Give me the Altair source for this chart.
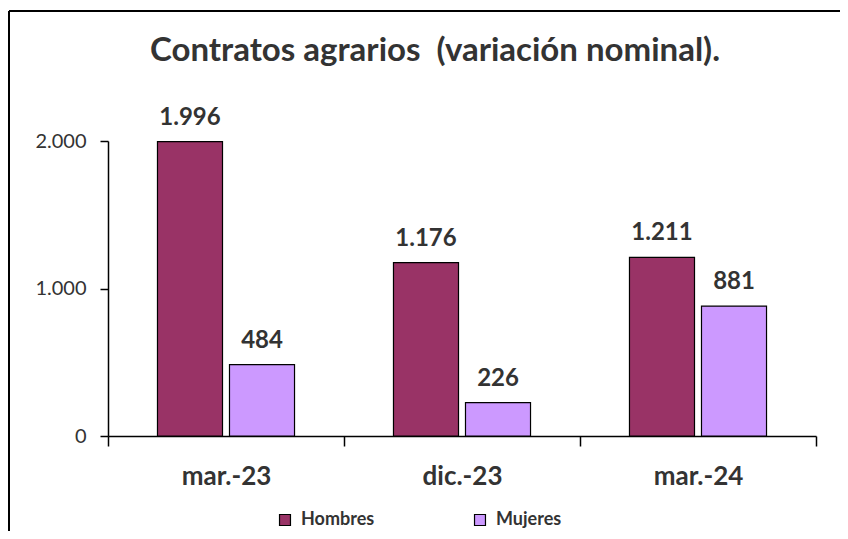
import altair as alt
import pandas as pd

periods = ["mar.-23", "dic.-23", "mar.-24"]
hombres = [1996, 1176, 1211]
mujeres = [484, 226, 881]
series = ["Hombres", "Mujeres"]
colors = ["#993366", "#CC99FF"]
title_text = "Contratos agrarios\u00a0 (variación nominal)."

rows = []
for p, h, m in zip(periods, hombres, mujeres):
    rows.append({"periodo": p, "sexo": "Hombres", "valor": h})
    rows.append({"periodo": p, "sexo": "Mujeres", "valor": m})
df = pd.DataFrame(rows)
df["etiqueta"] = df["valor"].map(lambda v: f"{v:,}".replace(",", "."))

FONT = "Lato"
TXT = "#333333"

x = alt.X("periodo:N", sort=periods, title=None,
          scale=alt.Scale(paddingInner=0, paddingOuter=0),
          axis=alt.Axis(labelFont=FONT, labelFontSize=26, labelFontWeight="bold",
                        labelColor=TXT, labelPadding=17, labelAngle=0,
                        domainColor="black", domainWidth=1.5,
                        tickColor="black", tickWidth=1.5, tickSize=10,
                        tickBand="extent"))
xo = alt.XOffset("sexo:N", sort=series,
                 scale=alt.Scale(paddingInner=0.097, paddingOuter=0.687))
y = alt.Y("valor:Q", title=None,
          scale=alt.Scale(domain=[0, 2000], nice=False),
          axis=alt.Axis(values=[0, 1000, 2000],
                        labelExpr="replace(format(datum.value, ','), ',', '.')",
                        labelFont=FONT, labelFontSize=20, labelColor=TXT,
                        labelPadding=14, grid=False,
                        domainColor="black", domainWidth=1.5,
                        tickColor="black", tickWidth=1.5, tickSize=8))

color = alt.Color("sexo:N", sort=series,
                  scale=alt.Scale(domain=series, range=colors),
                  legend=alt.Legend(title=None, orient="none", direction="horizontal",
                                    legendX=168, legendY=370,
                                    symbolType="square", symbolSize=120,
                                    symbolStrokeColor="black", symbolStrokeWidth=1.2,
                                    symbolOpacity=1,
                                    labelFont=FONT, labelFontSize=18,
                                    labelFontWeight="bold", labelColor=TXT,
                                    labelOffset=7, columnPadding=96))

base = alt.Chart(df)
bars = base.mark_bar(stroke="black", strokeWidth=1.2, opacity=1).encode(
    x=x, xOffset=xo, y=y, color=color)
labels = base.mark_text(font=FONT, fontSize=24, fontWeight="bold", color=TXT,
                        baseline="alphabetic", dy=-17).encode(
    x=alt.X("periodo:N", sort=periods), xOffset=alt.XOffset("sexo:N", sort=series),
    y="valor:Q", text="etiqueta:N")

frame_df = pd.DataFrame({"k": [0]})
top_line = alt.Chart(frame_df).mark_rule(color="black", strokeWidth=2).encode(
    x=alt.value(-99), x2=alt.value(740), y=alt.value(-130))
left_line = alt.Chart(frame_df).mark_rule(color="black", strokeWidth=2).encode(
    x=alt.value(-99), y=alt.value(-130), y2=alt.value(400))

chart = alt.layer(bars, labels, top_line, left_line).properties(
    width=708, height=295,
    background="white",
    autosize=alt.AutoSizeParams(type="none"),
    padding={"left": 100, "top": 133, "right": 24, "bottom": 95},
    title=alt.TitleParams(title_text, font=FONT, fontSize=33, fontWeight="bold",
                          color=TXT, anchor="middle", dx=-27, offset=-84,
                          baseline="alphabetic"),
).configure_view(stroke=None)

chart.save("out.html", embed_options={"renderer": "svg", "actions": False})
